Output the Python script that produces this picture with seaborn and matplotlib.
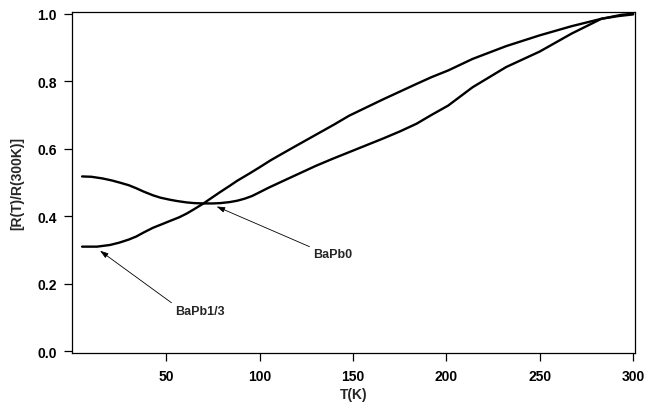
import matplotlib
matplotlib.use("Agg")
import matplotlib.pyplot as plt
import seaborn as sns
import pandas as pd

# --- data ---
T_bapb0 = [5, 10, 16, 21, 25, 30, 34, 38, 43, 47, 52, 56, 61, 65, 70, 75, 79, 84, 88, 92,
           96, 100, 105, 112, 121, 130, 139, 148, 157, 166, 175, 184, 192, 201, 214, 232,
           250, 267, 283, 294, 300]
R_bapb0 = [0.518, 0.517, 0.512, 0.506, 0.500, 0.492, 0.483, 0.473, 0.462, 0.455, 0.449,
           0.445, 0.441, 0.439, 0.438, 0.438, 0.439, 0.442, 0.446, 0.452, 0.460, 0.471,
           0.485, 0.503, 0.526, 0.549, 0.570, 0.590, 0.610, 0.630, 0.651, 0.674, 0.700,
           0.728, 0.782, 0.842, 0.888, 0.941, 0.985, 0.997, 1.000]

T_bapb13 = [5, 13, 20, 25, 30, 34, 38, 43, 48, 52, 57, 61, 65, 70, 75, 79, 84, 88, 95,
            100, 106, 112, 120, 130, 140, 148, 157, 166, 175, 184, 192, 201, 214, 232,
            250, 267, 283, 292, 300]
R_bapb13 = [0.310, 0.310, 0.315, 0.322, 0.331, 0.340, 0.352, 0.366, 0.377, 0.386, 0.397,
            0.408, 0.421, 0.438, 0.457, 0.472, 0.490, 0.505, 0.528, 0.545, 0.566, 0.585,
            0.610, 0.641, 0.672, 0.698, 0.722, 0.746, 0.769, 0.792, 0.812, 0.832, 0.866,
            0.904, 0.936, 0.963, 0.985, 0.993, 0.998]

x_ticks = [50, 100, 150, 200, 250, 300]
y_ticks = [0.0, 0.2, 0.4, 0.6, 0.8, 1.0]
x_label = "T(K)"
y_label = "[R(T)/R(300K)]"
label_bapb0 = "BaPb0"
label_bapb13 = "BaPb1/3"

df0 = pd.DataFrame({"T": T_bapb0, "R": R_bapb0})
df13 = pd.DataFrame({"T": T_bapb13, "R": R_bapb13})

sns.set_style("ticks")
plt.rcParams["font.family"] = ["Liberation Sans", "DejaVu Sans"]
plt.rcParams["font.weight"] = "bold"
plt.rcParams["lines.solid_joinstyle"] = "round"

fig = plt.figure(figsize=(6.45, 4.06), dpi=100)
ax = fig.add_axes([0.1116, 0.1273, 0.8729, 0.8414])

sns.lineplot(data=df0, x="T", y="R", ax=ax, color="black", lw=1.7,
             estimator=None, sort=False)
sns.lineplot(data=df13, x="T", y="R", ax=ax, color="black", lw=1.7,
             estimator=None, sort=False)

ax.set_xlim(-0.4, 301)
ax.set_ylim(-0.006, 1.006)
ax.set_xticks(x_ticks)
ax.set_xticklabels([str(v) for v in x_ticks])
ax.set_yticks(y_ticks)
ax.set_yticklabels([f"{v:.1f}" for v in y_ticks])
ax.tick_params(direction="out", length=6, width=0.9, pad=5, labelsize=10,
               colors="black")
for lab in ax.get_xticklabels() + ax.get_yticklabels():
    lab.set_fontweight("bold")

for sp in ax.spines.values():
    sp.set_visible(True)
    sp.set_linewidth(0.9)
    sp.set_color("black")

ax.set_xlabel(x_label, fontsize=10, fontweight="bold", labelpad=3)
ax.set_ylabel(y_label, fontsize=10, fontweight="bold", labelpad=9)

arrow = dict(arrowstyle="-|>,head_length=0.55,head_width=0.18", lw=0.6,
             color="black", shrinkA=0, shrinkB=0, relpos=(0, 1))
ax.annotate(label_bapb0, xy=(77, 0.429), xytext=(128.5, 0.288),
            fontsize=9, fontweight="bold", ha="left", va="center",
            arrowprops=arrow)
ax.annotate(label_bapb13, xy=(14.6, 0.298), xytext=(54.6, 0.119),
            fontsize=9, fontweight="bold", ha="left", va="center",
            arrowprops=arrow)

fig.savefig("out.png", dpi=100)
